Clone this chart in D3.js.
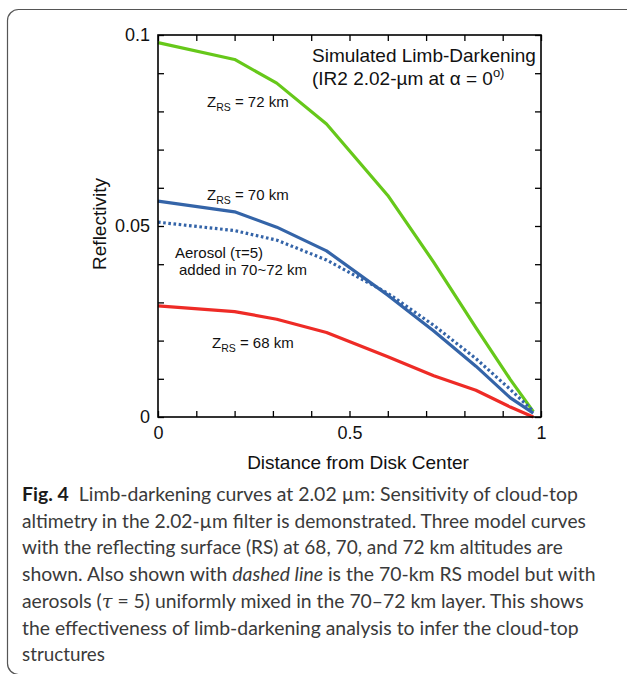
<!DOCTYPE html>
<html>
<head>
<meta charset="utf-8">
<script src="https://cdn.jsdelivr.net/npm/d3@7"></script>
<style>
  body { margin: 0; background: #fff; }
  svg { display: block; }
</style>
</head>
<body>
<div id="chart"></div>
<script>
var w = 627,
  h = 674;

// values (distance from disk center -> reflectivity)
var distance = [0, 0.2, 0.31, 0.44, 0.6, 0.72, 0.83, 0.92, 0.98];
var rs72 = [0.098, 0.0936, 0.0874, 0.0767, 0.058, 0.0405, 0.0234, 0.0098, 0.0014];
var rs70 = [0.0565, 0.0537, 0.0497, 0.0435, 0.0319, 0.0225, 0.0133, 0.005, 0.001];
var aerosol = [0.051, 0.0488, 0.0463, 0.0411, 0.0324, 0.024, 0.0153, 0.0072, 0.0015];
var rs68 = [0.0291, 0.0276, 0.0256, 0.0221, 0.0158, 0.0108, 0.007, 0.0026, 0.0];

var xTicks = [0, 0.1, 0.2, 0.3, 0.4, 0.5, 0.6, 0.7, 0.8, 0.9, 1];
var yTicks = [0, 0.01, 0.02, 0.03, 0.04, 0.05, 0.06, 0.07, 0.08, 0.09, 0.1];
var xLabelValues = [0, 0.5, 1];
var xTickLabels = ["0", "0.5", "1"];
var yLabelValues = [0, 0.05, 0.1];
var yTickLabels = ["0", "0.05", "0.1"];

var series = [
  {name: "72", values: rs72, color: "#66c81a", dash: null},
  {name: "70", values: rs70, color: "#3464a8", dash: null},
  {name: "aerosol", values: aerosol, color: "#3464a8", dash: "2.6,2.6"},
  {name: "68", values: rs68, color: "#ee2b26", dash: null}
];

var chartFont = "'Liberation Sans', Arial, Helvetica, sans-serif";

var svg = d3.select("#chart").append("svg").attr("width", w).attr("height", h);

// outer frame of the figure box
svg.append("rect")
  .attr("x", 7.5).attr("y", 9.5)
  .attr("width", 640).attr("height", 665)
  .attr("rx", 11)
  .attr("fill", "none")
  .attr("stroke", "#555")
  .attr("stroke-width", 1.2);

var x = d3.scaleLinear().domain([0, 1]).range([158, 541]);
var y = d3.scaleLinear().domain([0, 0.1]).range([417, 35]);

// curves
var line = d3.line()
  .x(function(d) { return x(d[0]); })
  .y(function(d) { return y(d[1]); });

svg.selectAll(".curve").data(series).enter().append("path")
  .attr("class", "curve")
  .attr("fill", "none")
  .attr("stroke", function(d) { return d.color; })
  .attr("stroke-width", 3.2)
  .attr("stroke-linejoin", "round")
  .attr("stroke-dasharray", function(d) { return d.dash; })
  .attr("d", function(d) {
    return line(distance.map(function(v, i) { return [v, d.values[i]]; }));
  });

// inward ticks on all four sides
function tickAxis(axis, tx, ty) {
  var g = svg.append("g").attr("transform", "translate(" + tx + "," + ty + ")").call(axis);
  g.select(".domain").remove();
  g.selectAll("line").attr("stroke", "#000").attr("stroke-width", 1.3);
  return g;
}
tickAxis(d3.axisBottom(x).tickValues(xTicks).tickSize(-6).tickFormat(""), 0, y(0));
tickAxis(d3.axisTop(x).tickValues(xTicks).tickSize(-6).tickFormat(""), 0, y(0.1));
tickAxis(d3.axisLeft(y).tickValues(yTicks).tickSize(-6).tickFormat(""), x(0), 0);
tickAxis(d3.axisRight(y).tickValues(yTicks).tickSize(-6).tickFormat(""), x(1), 0);

// plot frame
svg.append("rect")
  .attr("x", x(0)).attr("y", y(0.1))
  .attr("width", x(1) - x(0)).attr("height", y(0) - y(0.1))
  .attr("fill", "none")
  .attr("stroke", "#000")
  .attr("stroke-width", 1.6);

// tick labels
var xl = svg.append("g").attr("transform", "translate(0," + y(0) + ")")
  .call(d3.axisBottom(x).tickValues(xLabelValues).tickSize(0).tickPadding(9)
    .tickFormat(function(d, i) { return xTickLabels[i]; }));
var yl = svg.append("g").attr("transform", "translate(" + x(0) + ",0)")
  .call(d3.axisLeft(y).tickValues(yLabelValues).tickSize(0).tickPadding(8)
    .tickFormat(function(d, i) { return yTickLabels[i]; }));
[xl, yl].forEach(function(g) {
  g.select(".domain").remove();
  g.selectAll("text").attr("font-family", chartFont).attr("font-size", 18).attr("fill", "#111");
});

// axis titles
svg.append("text")
  .attr("x", 358).attr("y", 469)
  .attr("text-anchor", "middle")
  .attr("font-family", chartFont).attr("font-size", 19).attr("fill", "#111")
  .text("Distance from Disk Center");

svg.append("text")
  .attr("transform", "translate(106,224) rotate(-90)")
  .attr("text-anchor", "middle")
  .attr("font-family", chartFont).attr("font-size", 19).attr("fill", "#111")
  .text("Reflectivity");

// title inside the plot
var t1 = svg.append("text")
  .attr("x", 312).attr("y", 62)
  .attr("font-family", chartFont).attr("font-size", 19).attr("fill", "#111")
  .text("Simulated Limb-Darkening");
var t2 = svg.append("text")
  .attr("x", 312).attr("y", 85)
  .attr("font-family", chartFont).attr("font-size", 19).attr("fill", "#111");
t2.append("tspan").text("(IR2 2.02-\u00b5m at \u03b1 = 0");
t2.append("tspan").attr("font-size", 13).attr("dy", -8).text("o)");

// curve labels
function zLabel(px, py, km) {
  var t = svg.append("text").attr("x", px).attr("y", py)
    .attr("font-family", chartFont).attr("font-size", 15).attr("fill", "#111");
  t.append("tspan").text("Z");
  t.append("tspan").attr("font-size", 10.5).attr("dy", 4).text("RS");
  t.append("tspan").attr("dy", -4).text(" = " + km + " km");
}
zLabel(207, 107, 72);
zLabel(207, 200, 70);
zLabel(212, 348, 68);

svg.append("text").attr("x", 175).attr("y", 258)
  .attr("font-family", chartFont).attr("font-size", 15).attr("fill", "#111")
  .text("Aerosol (\u03c4=5)");
svg.append("text").attr("x", 179).attr("y", 275)
  .attr("font-family", chartFont).attr("font-size", 15).attr("fill", "#111")
  .text("added in 70~72 km");

// caption, each line fitted to its width in the figure
var capFont = "Lato, 'Open Sans', 'Noto Sans', sans-serif";
var capLines = [
  {w: 556, parts: [["Fig. 4", "b"], ["  Limb-darkening curves at 2.02 \u00b5m: Sensitivity of cloud-top", ""]]},
  {w: 564, parts: [["altimetry in the 2.02-\u00b5m filter is demonstrated. Three model curves", ""]]},
  {w: 541, parts: [["with the reflecting surface (RS) at 68, 70, and 72 km altitudes are", ""]]},
  {w: 574, parts: [["shown. Also shown with ", ""], ["dashed line", "i"], [" is the 70-km RS model but with", ""]]},
  {w: 562, parts: [["aerosols (", ""], ["\u03c4", "m"], [" = 5) uniformly mixed in the 70\u201372 km layer. This shows", ""]]},
  {w: 557, parts: [["the effectiveness of limb-darkening analysis to infer the cloud-top", ""]]},
  {w: 83, parts: [["structures", ""]]}
];

capLines.forEach(function(ln, i) {
  var g = svg.append("g");
  var t = g.append("text")
    .attr("font-family", capFont).attr("font-size", 19).attr("fill", "#3a3a3a")
    .attr("xml:space", "preserve");
  ln.parts.forEach(function(p) {
    var s = t.append("tspan").text(p[0]);
    if (p[1] == "b") s.attr("font-weight", "bold").attr("fill", "#1a1a1a");
    if (p[1] == "i") s.attr("font-style", "italic");
    if (p[1] == "m") s.attr("font-style", "italic").attr("font-family", "'DejaVu Serif', serif");
  });
  var bw = t.node().getComputedTextLength();
  g.attr("transform", "translate(22," + (501 + i * 26.7) + ") scale(" + (ln.w / bw) + ",1)");
});
</script>
</body>
</html>
